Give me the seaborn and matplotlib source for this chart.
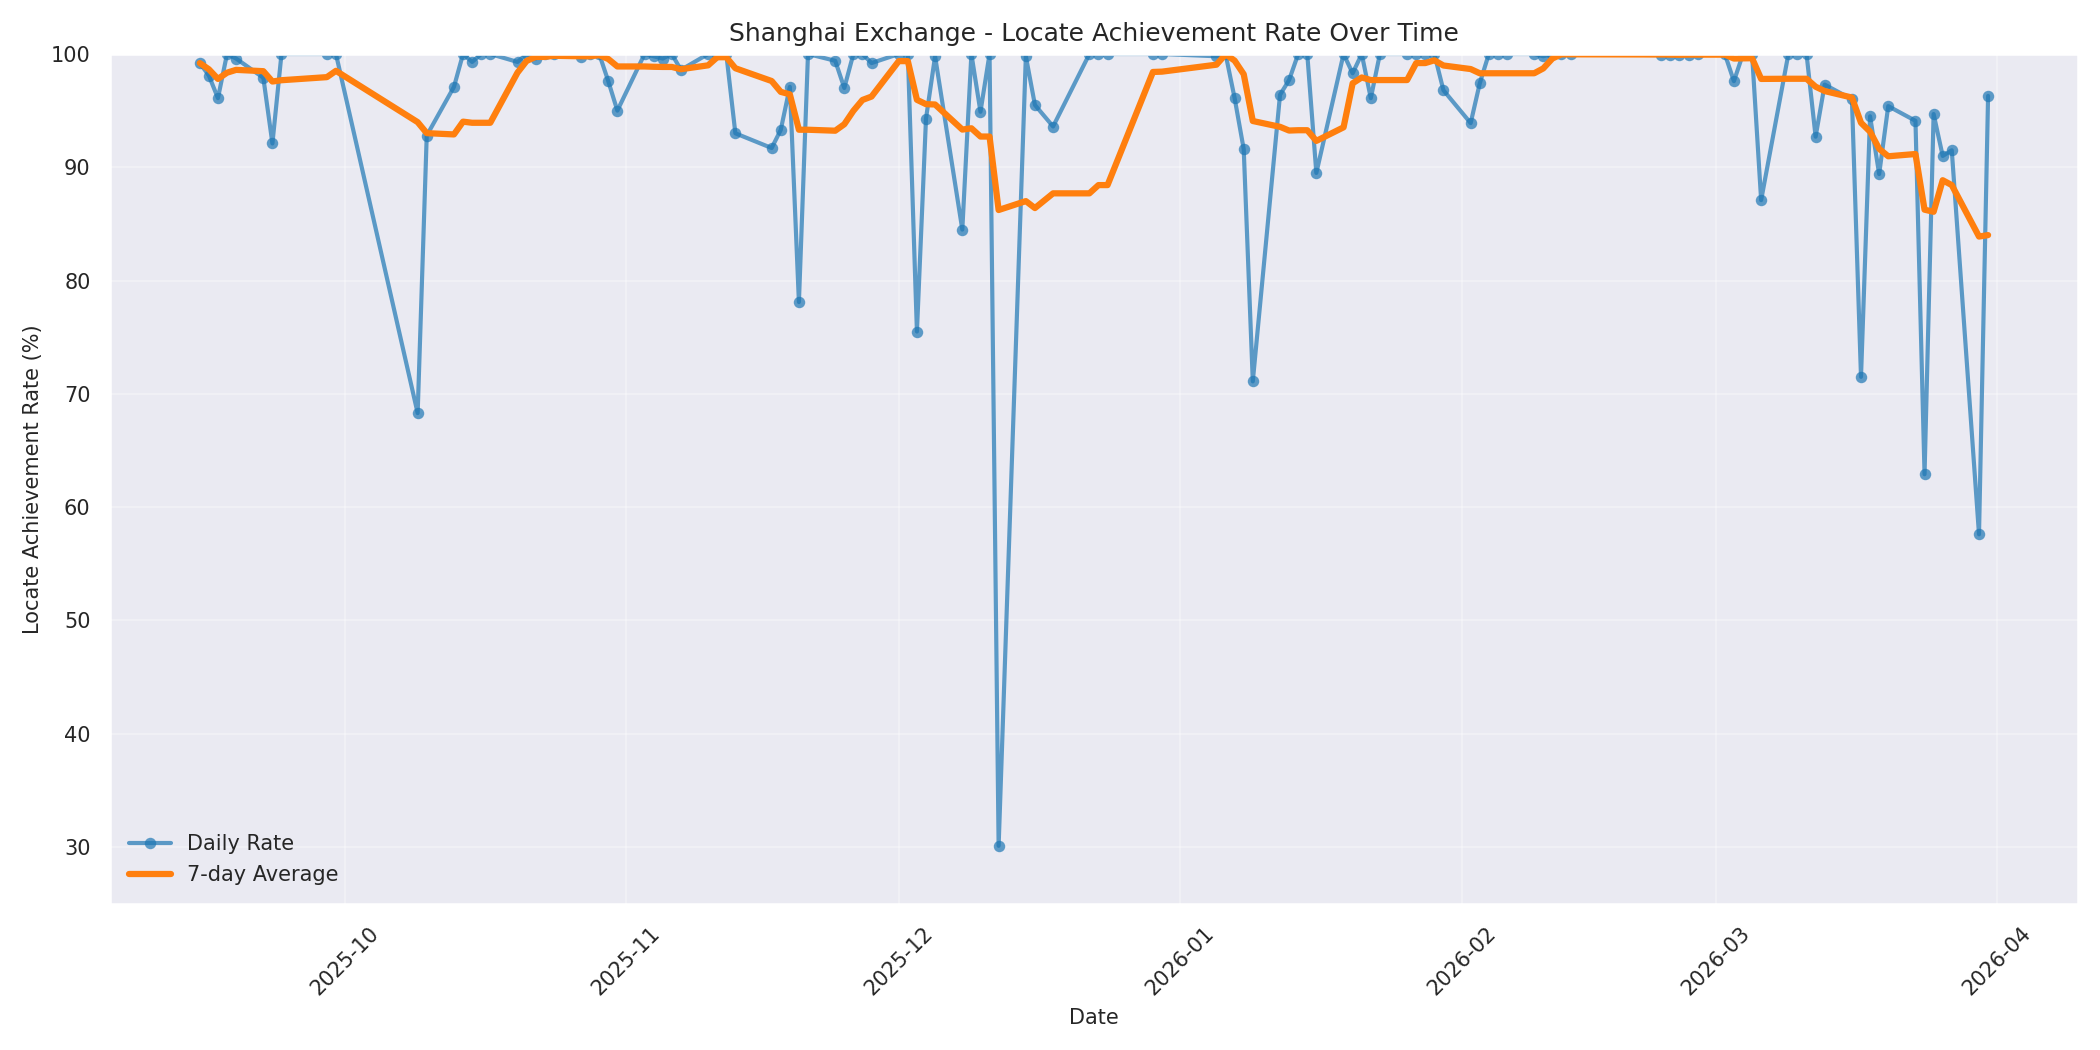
import pandas as pd
import numpy as np
import matplotlib
matplotlib.use("Agg")
import matplotlib.pyplot as plt
import matplotlib.dates as mdates
import seaborn as sns

dates = [
 "2025-09-15","2025-09-16","2025-09-17","2025-09-18","2025-09-19",
 "2025-09-22","2025-09-23","2025-09-24","2025-09-29","2025-09-30",
 "2025-10-09","2025-10-10","2025-10-13","2025-10-14","2025-10-15","2025-10-16","2025-10-17",
 "2025-10-20","2025-10-21","2025-10-22","2025-10-23","2025-10-24",
 "2025-10-27","2025-10-28","2025-10-29","2025-10-30","2025-10-31",
 "2025-11-03","2025-11-04","2025-11-05","2025-11-06","2025-11-07",
 "2025-11-10","2025-11-11","2025-11-12","2025-11-13",
 "2025-11-17","2025-11-18","2025-11-19","2025-11-20","2025-11-21",
 "2025-11-24","2025-11-25","2025-11-26","2025-11-27","2025-11-28",
 "2025-12-01","2025-12-02","2025-12-03","2025-12-04","2025-12-05",
 "2025-12-08","2025-12-09","2025-12-10","2025-12-11","2025-12-12",
 "2025-12-15","2025-12-16","2025-12-18",
 "2025-12-22","2025-12-23","2025-12-24","2025-12-29","2025-12-30",
 "2026-01-05","2026-01-06","2026-01-07","2026-01-08","2026-01-09",
 "2026-01-12","2026-01-13","2026-01-14","2026-01-15","2026-01-16",
 "2026-01-19","2026-01-20","2026-01-21","2026-01-22","2026-01-23",
 "2026-01-26","2026-01-27","2026-01-28","2026-01-29","2026-01-30",
 "2026-02-02","2026-02-03","2026-02-04","2026-02-05","2026-02-06",
 "2026-02-09","2026-02-10","2026-02-11","2026-02-12","2026-02-13",
 "2026-02-23","2026-02-24","2026-02-25","2026-02-26","2026-02-27",
 "2026-03-02","2026-03-03","2026-03-04","2026-03-05","2026-03-06",
 "2026-03-09","2026-03-10","2026-03-11","2026-03-12","2026-03-13",
 "2026-03-16","2026-03-17","2026-03-18","2026-03-19","2026-03-20",
 "2026-03-23","2026-03-24","2026-03-25","2026-03-26","2026-03-27",
 "2026-03-30","2026-03-31",
]
rates = [
 99.2, 98.1, 96.1, 100.0, 99.6,
 97.9, 92.1, 100.0, 100.0, 100.0,
 68.3, 92.8, 97.1, 100.0, 99.3, 100.0, 100.0,
 99.3, 100.0, 99.6, 100.0, 100.0,
 99.7, 100.0, 100.0, 97.6, 95.0,
 100.0, 99.8, 99.6, 100.0, 98.6,
 100.0, 100.0, 100.0, 93.0,
 91.7, 93.3, 97.1, 78.1, 100.0,
 99.4, 97.0, 100.0, 100.0, 99.2,
 100.0, 100.0, 75.5, 94.3, 99.8,
 84.5, 100.0, 94.9, 100.0, 30.1,
 99.8, 95.5, 93.6,
 100.0, 100.0, 100.0, 100.0, 100.0,
 99.8, 100.0, 96.1, 91.6, 71.1,
 96.4, 97.7, 100.0, 100.0, 89.5,
 100.0, 98.3, 100.0, 96.1, 100.0,
 100.0, 100.0, 100.0, 100.0, 96.8,
 93.9, 97.4, 100.0, 100.0, 100.0,
 100.0, 99.8, 100.0, 100.0, 100.0,
 99.9, 99.9, 99.9, 99.9, 100.0,
 100.0, 97.6, 100.0, 100.0, 87.1,
 100.0, 100.0, 100.0, 92.7, 97.3,
 96.0, 71.5, 94.5, 89.4, 95.4,
 94.1, 62.9, 94.7, 91.0, 91.5,
 57.6, 96.3,
]

df = pd.DataFrame({"date": pd.to_datetime(dates), "rate": rates})
df["avg"] = df["rate"].rolling(7, min_periods=1).mean()

sns.set_theme(style="darkgrid", rc={"font.size": 10, "axes.titlesize": 12, "axes.labelsize": 10,
                                    "xtick.labelsize": 10, "ytick.labelsize": 10, "legend.fontsize": 10,
                                    "grid.alpha": 0.3})
fig, ax = plt.subplots(figsize=(14, 7), dpi=150)
sns.lineplot(data=df, x="date", y="rate", ax=ax, marker="o", linewidth=2, markersize=5.5,
             color="#1f77b4", alpha=0.7, markeredgewidth=0, label="Daily Rate")
sns.lineplot(data=df, x="date", y="avg", ax=ax, linewidth=3, color="#ff7f0e", label="7-day Average")
ax.set_ylim(25, 100)
ax.grid(True, alpha=0.3)
ax.set_title("Shanghai Exchange - Locate Achievement Rate Over Time")
ax.set_xlabel("Date")
ax.set_ylabel("Locate Achievement Rate (%)")
ax.xaxis.set_major_locator(mdates.MonthLocator())
ax.xaxis.set_major_formatter(mdates.DateFormatter("%Y-%m"))
plt.setp(ax.get_xticklabels(), rotation=45)
ax.legend(loc="lower left", frameon=False)
fig.tight_layout()
fig.savefig("out.png", dpi=150)
